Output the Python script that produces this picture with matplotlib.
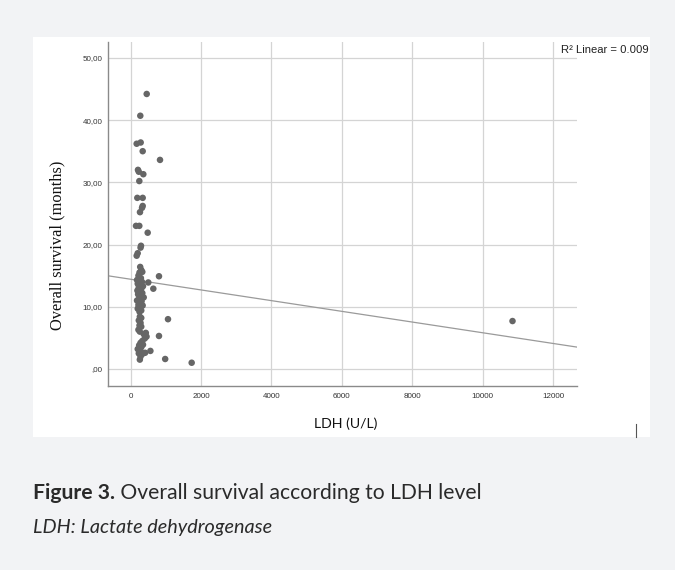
import matplotlib
matplotlib.use("Agg")
import matplotlib.pyplot as plt
from matplotlib.patches import Rectangle
from matplotlib.lines import Line2D
import numpy as np

# ---- data ----
ldh = [455, 273, 170, 284, 341, 833, 207, 359, 230, 245, 188, 341, 341, 322, 264,
       151, 245, 483, 293, 280, 199, 170,
       270, 300, 250, 330, 220, 290, 180, 240, 320, 200, 280, 350, 230, 300, 190,
       260, 330, 210, 290, 370, 240, 180, 310, 260, 220, 340, 280, 200, 300, 250,
       804, 500, 643,
       260, 300, 230, 280, 250, 300, 220, 260,
       1060, 804,
       370, 430, 450, 400, 330, 280, 240, 350, 300, 200, 260, 410, 330, 230, 280,
       260, 300, 560, 980, 1733,
       10850]
survival = [44.2, 40.7, 36.2, 36.4, 35.0, 33.6, 32.0, 31.3, 31.7, 30.2, 27.5, 27.5, 26.2, 25.9, 25.2,
            23.0, 23.0, 21.9, 19.8, 19.5, 18.6, 18.2,
            16.4, 15.9, 15.5, 15.6, 15.0, 14.6, 14.3, 14.1, 14.0, 13.7, 13.5, 13.3, 13.1, 12.9, 12.6,
            12.4, 12.2, 12.0, 11.8, 11.5, 11.3, 11.0, 10.9, 10.6, 10.3, 10.2, 9.9, 9.7, 9.4, 9.2,
            14.9, 13.9, 12.9,
            8.4, 8.2, 7.8, 7.4, 7.0, 6.8, 6.3, 6.0,
            8.0, 5.3,
            5.6, 5.8, 5.2, 4.9, 4.5, 4.2, 3.8, 3.9, 3.5, 3.2, 3.0, 2.6, 2.4, 2.5, 2.0,
            1.5, 2.7, 2.9, 1.6, 1.0,
            7.7]

fit_intercept = 14.42
fit_slope = -0.00086
r2_text = "R\u00b2 Linear = 0.009"

x_ticks = [0, 2000, 4000, 6000, 8000, 10000, 12000]
x_tick_labels = ["0", "2000", "4000", "6000", "8000", "10000", "12000"]
y_ticks = [0, 10, 20, 30, 40, 50]
y_tick_labels = [",00", "10,00", "20,00", "30,00", "40,00", "50,00"]

x_label = "LDH (U/L)"
y_label = "Overall survival (months)"
caption_bold = "Figure 3."
caption_rest = " Overall survival according to LDH level"
caption_note = "LDH: Lactate dehydrogenase"

# ---- figure ----
W, H = 675, 570
fig = plt.figure(figsize=(W / 100, H / 100), dpi=100)
fig.patch.set_facecolor("#f2f3f5")

# white panel holding the chart
fig.patches.append(Rectangle((33 / W, 1 - 437 / H), (650 - 33) / W, (437 - 37) / H,
                             transform=fig.transFigure, facecolor="white",
                             edgecolor="none", zorder=-10))

ax = fig.add_axes([107.5 / W, 1 - 386 / H, (576.7 - 107.5) / W, (386 - 41.7) / H])
ax.set_facecolor("white")
ax.set_xlim(-659, 12674)
ax.set_ylim(-2.74, 52.6)

ax.set_xticks(x_ticks)
ax.set_xticklabels(x_tick_labels)
ax.set_yticks(y_ticks)
ax.set_yticklabels(y_tick_labels)
ax.tick_params(length=0, labelsize=5.8, colors="#333333")
ax.tick_params(axis="y", pad=3.5)
ax.tick_params(axis="x", pad=5)
for lab in ax.get_xticklabels() + ax.get_yticklabels():
    lab.set_fontfamily("Liberation Sans")
ax.grid(True, color="#d4d4d4", linewidth=0.9)
ax.set_axisbelow(True)
for s in ["top", "right"]:
    ax.spines[s].set_visible(False)
for s in ["left", "bottom"]:
    ax.spines[s].set_color("#8a8a8a")
    ax.spines[s].set_linewidth(1.0)

ax.scatter(ldh, survival, s=22, color="#666666", edgecolors="none", zorder=3)

xl = np.array(ax.get_xlim())
ax.plot(xl, fit_intercept + fit_slope * xl, color="#9a9a9a", linewidth=0.9, zorder=2)
ax.set_xlim(-659, 12674)

ax.set_ylabel(y_label, fontfamily="Liberation Serif", fontsize=11.8, color="#111111")
ax.yaxis.set_label_coords(57 / W, 1 - 245 / H, transform=fig.transFigure)
ax.set_xlabel(x_label, fontfamily="Lato", fontsize=10.2, color="#111111")
ax.xaxis.set_label_coords(346 / W, 1 - 424 / H, transform=fig.transFigure)
ax.xaxis.label.set_va("center")
ax.yaxis.label.set_va("center")

fig.text(561 / W, 1 - 50 / H, r2_text, fontfamily="Liberation Sans", fontsize=8.1,
         color="#222222", va="center", ha="left")

# small vertical tick mark at lower right of panel
fig.lines.append(Line2D([636 / W, 636 / W], [1 - 437 / H, 1 - 424 / H],
                        transform=fig.transFigure, color="#555555", linewidth=0.8))

# caption
t1 = fig.text(33 / W, 1 - 493 / H, caption_bold, fontfamily="Lato", fontweight="bold",
              fontsize=15.2, color="#2a2a2a", va="center", ha="left")
fig.canvas.draw()
bb = t1.get_window_extent()
fig.text(bb.x1 / W, 1 - 493 / H, caption_rest, fontfamily="Lato", fontsize=15.2,
         color="#2a2a2a", va="center", ha="left")
fig.text(33 / W, 1 - 527 / H, caption_note, fontfamily="Lato", style="italic",
         fontsize=14.3, color="#2a2a2a", va="center", ha="left")

fig.savefig("out.png", dpi=100, facecolor=fig.get_facecolor())
